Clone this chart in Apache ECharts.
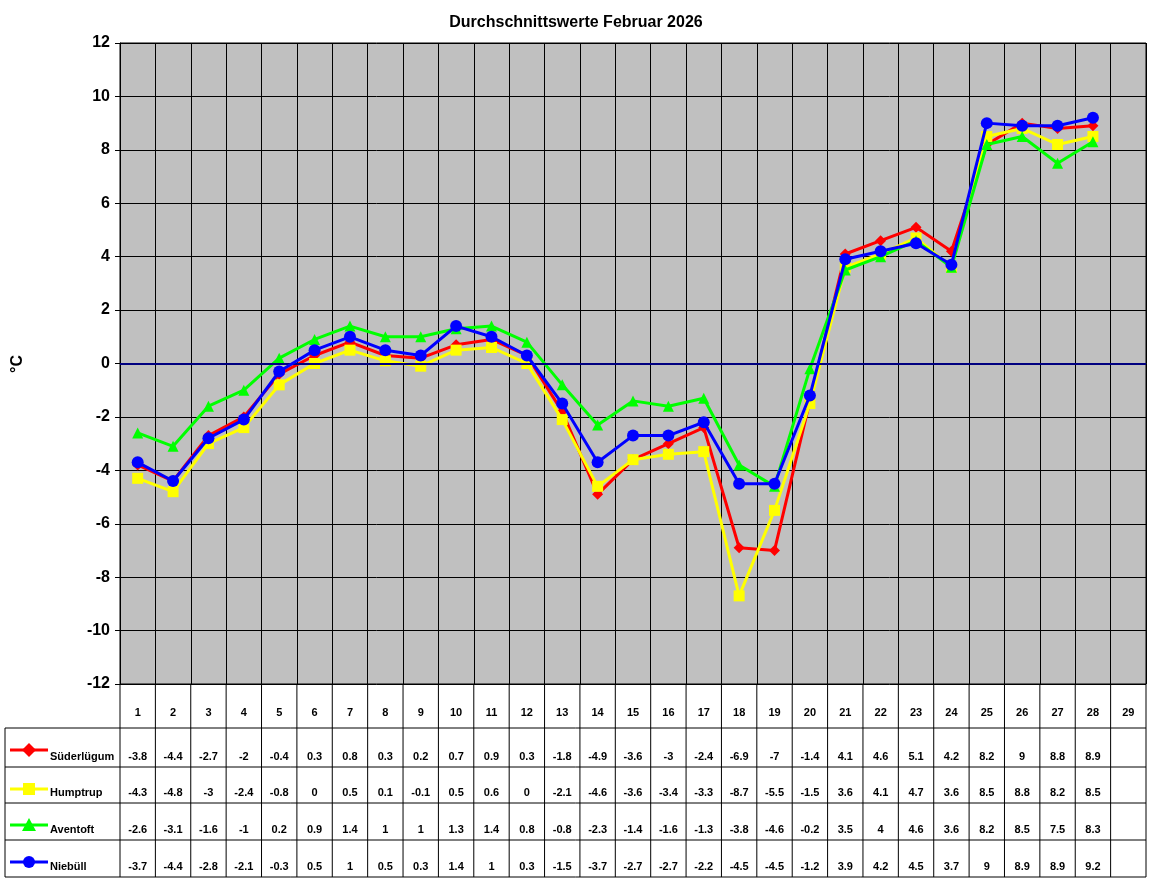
<!DOCTYPE html>
<html><head><meta charset="utf-8">
<script src="https://cdn.jsdelivr.net/npm/echarts@6/dist/echarts.min.js"></script>
<style>html,body{margin:0;padding:0;background:#fff}#c{width:1152px;height:882px}</style>
</head><body><div id="c"></div>
<script>
const days = ['1','2','3','4','5','6','7','8','9','10','11','12','13','14','15','16','17','18','19','20','21','22','23','24','25','26','27','28','29'];
const suederluegum = [-3.8,-4.4,-2.7,-2,-0.4,0.3,0.8,0.3,0.2,0.7,0.9,0.3,-1.8,-4.9,-3.6,-3,-2.4,-6.9,-7,-1.4,4.1,4.6,5.1,4.2,8.2,9,8.8,8.9,null];
const humptrup = [-4.3,-4.8,-3,-2.4,-0.8,0,0.5,0.1,-0.1,0.5,0.6,0,-2.1,-4.6,-3.6,-3.4,-3.3,-8.7,-5.5,-1.5,3.6,4.1,4.7,3.6,8.5,8.8,8.2,8.5,null];
const aventoft = [-2.6,-3.1,-1.6,-1,0.2,0.9,1.4,1,1,1.3,1.4,0.8,-0.8,-2.3,-1.4,-1.6,-1.3,-3.8,-4.6,-0.2,3.5,4,4.6,3.6,8.2,8.5,7.5,8.3,null];
const niebuell = [-3.7,-4.4,-2.8,-2.1,-0.3,0.5,1,0.5,0.3,1.4,1,0.3,-1.5,-3.7,-2.7,-2.7,-2.2,-4.5,-4.5,-1.2,3.9,4.2,4.5,3.7,9,8.9,8.9,9.2,null];
const names = ['Süderlügum','Humptrup','Aventoft','Niebüll'];
const colors = ['#ff0000','#ffff00','#00ff00','#0000ff'];
const symbols = ['diamond','rect','triangle','circle'];
const datas = [suederluegum, humptrup, aventoft, niebuell];

const L=120,R=1146,T=43,B=684, W=(R-L)/days.length;
const rowLines=[728,767,803,840,877];
const g=[];
const F='bold 11px Arial';
// table lines
for(let i=0;i<=days.length;i++){const x=L+i*W;g.push({type:'line',shape:{x1:x,y1:B,x2:x,y2:877},style:{stroke:'#000',lineWidth:1}});}
rowLines.forEach(y=>g.push({type:'line',shape:{x1:5,y1:y,x2:R,y2:y},style:{stroke:'#000',lineWidth:1}}));
g.push({type:'line',shape:{x1:5,y1:728,x2:5,y2:877},style:{stroke:'#000',lineWidth:1}});
days.forEach((d,i)=>g.push({type:'text',style:{text:d,x:L+(i+0.5)*W,y:713,align:'center',verticalAlign:'middle',font:F,fill:'#000'}}));
datas.forEach((arr,r)=>{
  const y=rowLines[r+1]-10;
  arr.forEach((v,i)=>{if(v!==null)g.push({type:'text',style:{text:String(v),x:L+(i+0.5)*W,y:y,align:'center',verticalAlign:'middle',font:F,fill:'#000'}});});
  g.push({type:'text',style:{text:names[r],x:50,y:y,align:'left',verticalAlign:'middle',font:F,fill:'#000'}});
  const my=rowLines[r]+22, c=colors[r];
  g.push({type:'line',shape:{x1:10,y1:my,x2:48,y2:my},style:{stroke:c,lineWidth:3}});
  let sh;
  if(r===0) sh={type:'polygon',shape:{points:[[29,my-7],[36,my],[29,my+7],[22,my]]}};
  else if(r===1) sh={type:'rect',shape:{x:23,y:my-6,width:12,height:12}};
  else if(r===2) sh={type:'polygon',shape:{points:[[29,my-7],[36,my+6],[22,my+6]]}};
  else sh={type:'circle',shape:{cx:29,cy:my,r:6}};
  sh.style={fill:c};g.push(sh);
});
g.push({type:'text',style:{text:'°C',x:18,y:364,align:'center',verticalAlign:'middle',font:'bold 16px Arial',fill:'#000'},rotation:Math.PI/2,x:0,y:0,originX:18,originY:364});

const series = datas.map((d,i)=>({name:names[i],type:'line',data:d,symbol:symbols[i],symbolSize:i===3?12:11,
  lineStyle:{color:colors[i],width:3},itemStyle:{color:colors[i]},z:2+i,animation:false}));
series[0].markLine={silent:true,symbol:'none',label:{show:false},lineStyle:{color:'#000080',width:2,type:'solid'},data:[{yAxis:0}]};

const chart=echarts.init(document.getElementById('c'));
chart.setOption({
  animation:false,backgroundColor:'#fff',
  title:{text:'Durchschnittswerte Februar 2026',left:'center',top:10,textStyle:{fontFamily:'Arial',fontSize:16,fontWeight:'bold',color:'#000'}},
  grid:{left:L,right:1152-R,top:T,bottom:882-B,show:true,backgroundColor:'#c0c0c0',borderColor:'#000',borderWidth:1},
  xAxis:{type:'category',data:days,boundaryGap:true,axisLabel:{show:false},axisTick:{show:false},
    axisLine:{lineStyle:{color:'#000'}},splitLine:{show:true,lineStyle:{color:'#000',width:1}}},
  yAxis:{type:'value',min:-12,max:12,interval:2,axisLine:{show:true,lineStyle:{color:'#000'}},axisTick:{show:true,lineStyle:{color:'#000'}},
    axisLabel:{fontFamily:'Arial',fontSize:16,fontWeight:'bold',color:'#000',margin:10},splitLine:{lineStyle:{color:'#000',width:1}}},
  series:series,
  graphic:g
});
</script></body></html>
